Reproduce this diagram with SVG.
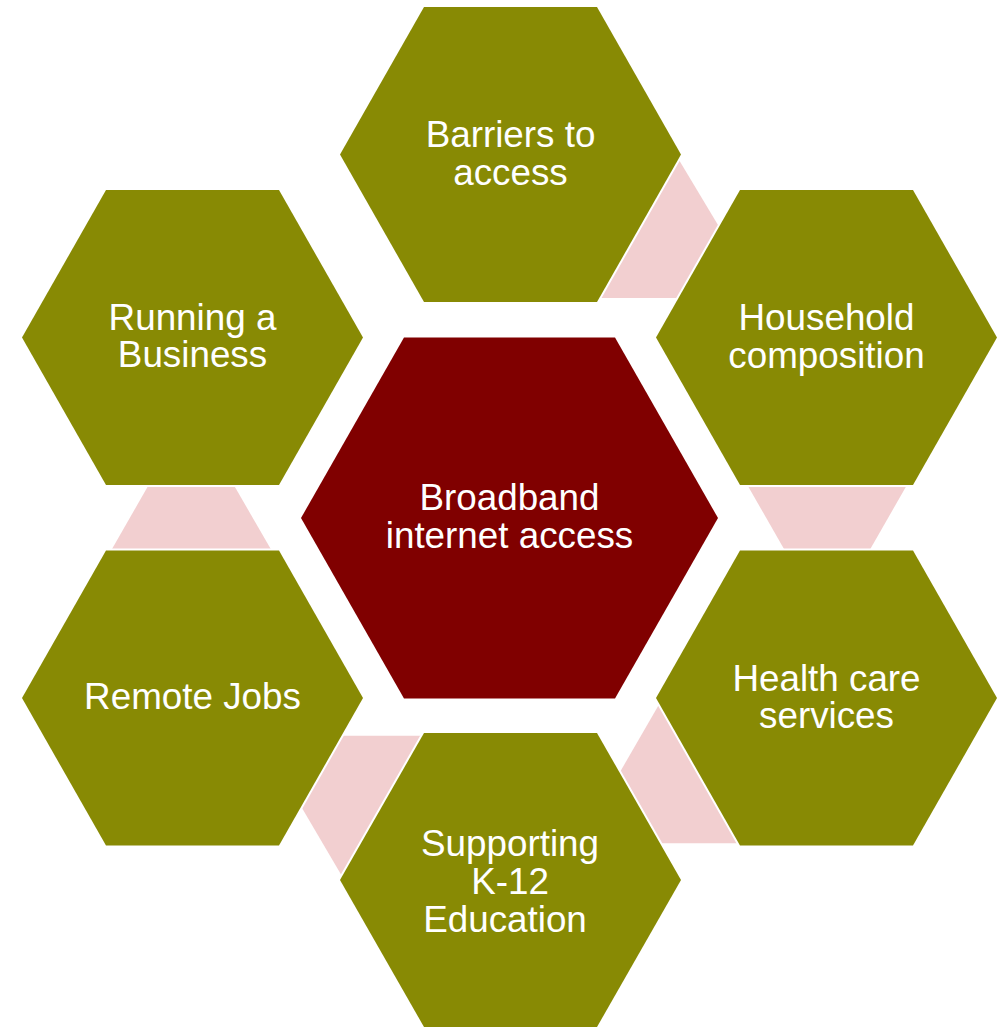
<svg xmlns="http://www.w3.org/2000/svg" width="1002" height="1028" viewBox="0 0 1002 1028">
  <style>
    .hex { fill: #888A04; stroke: #FFFFFF; stroke-width: 4; paint-order: stroke; stroke-linejoin: miter; }
    .center { fill: #800000; stroke: #FFFFFF; stroke-width: 4; paint-order: stroke; }
    .conn { fill: #F2CFD0; stroke: none; }
    .lbl { font-family: "Liberation Sans", Arial, sans-serif; font-size: 36.8px; fill: #FFFFFF; text-anchor: middle; }
  </style>
  <rect x="0" y="0" width="1002" height="1028" fill="#FFFFFF"/>
  <g id="connectors">
    <polygon class="conn" points="673,150 727,240 700,298 595,298"/>
    <polygon class="conn" points="744.5,480 909.8,480 866.3,556 788,556"/>
    <polygon class="conn" points="667.4,690 720,690 745,843.3 650,843.3 609.6,790"/>
    <polygon class="conn" points="330,735.7 440,735.7 347.2,885 291.4,790"/>
    <polygon class="conn" points="151.5,480 230.9,480 274.8,556 108,556"/>
  </g>
  <g id="node-barriers">
    <polygon class="hex" points="340,154.5 424,7 597,7 681,154.5 597,302 424,302"/>
    <text class="lbl" x="510.5" y="147">Barriers to</text>
    <text class="lbl" x="510.5" y="185">access</text>
  </g>
  <g id="node-household">
    <polygon class="hex" points="656,337.5 740,190 913,190 997,337.5 913,485 740,485"/>
    <text class="lbl" x="826.5" y="330">Household</text>
    <text class="lbl" x="826.5" y="368">composition</text>
  </g>
  <g id="node-health">
    <polygon class="hex" points="656,698 740,550.5 913,550.5 997,698 913,845.5 740,845.5"/>
    <text class="lbl" x="826.5" y="690.5">Health care</text>
    <text class="lbl" x="826.5" y="728">services</text>
  </g>
  <g id="node-k12">
    <polygon class="hex" points="340,880 424,733 597,733 681,880 597,1027 424,1027"/>
    <text class="lbl" x="510" y="855.5">Supporting</text>
    <text class="lbl" x="510" y="893.5">K-12</text>
    <text class="lbl" x="505" y="931.5">Education</text>
  </g>
  <g id="node-remote">
    <polygon class="hex" points="22,698 106,550.5 279,550.5 363,698 279,845.5 106,845.5"/>
    <text class="lbl" x="192.5" y="708.5">Remote Jobs</text>
  </g>
  <g id="node-business">
    <polygon class="hex" points="22,337.5 106,190 279,190 363,337.5 279,485 106,485"/>
    <text class="lbl" x="192.5" y="329.5">Running a</text>
    <text class="lbl" x="192.5" y="367">Business</text>
  </g>
  <g id="node-center">
    <polygon class="center" points="301,518 404,337.5 615,337.5 718,518 615,698.5 404,698.5"/>
    <text class="lbl" x="509.5" y="510">Broadband</text>
    <text class="lbl" x="509.5" y="548">internet access</text>
  </g>
</svg>
